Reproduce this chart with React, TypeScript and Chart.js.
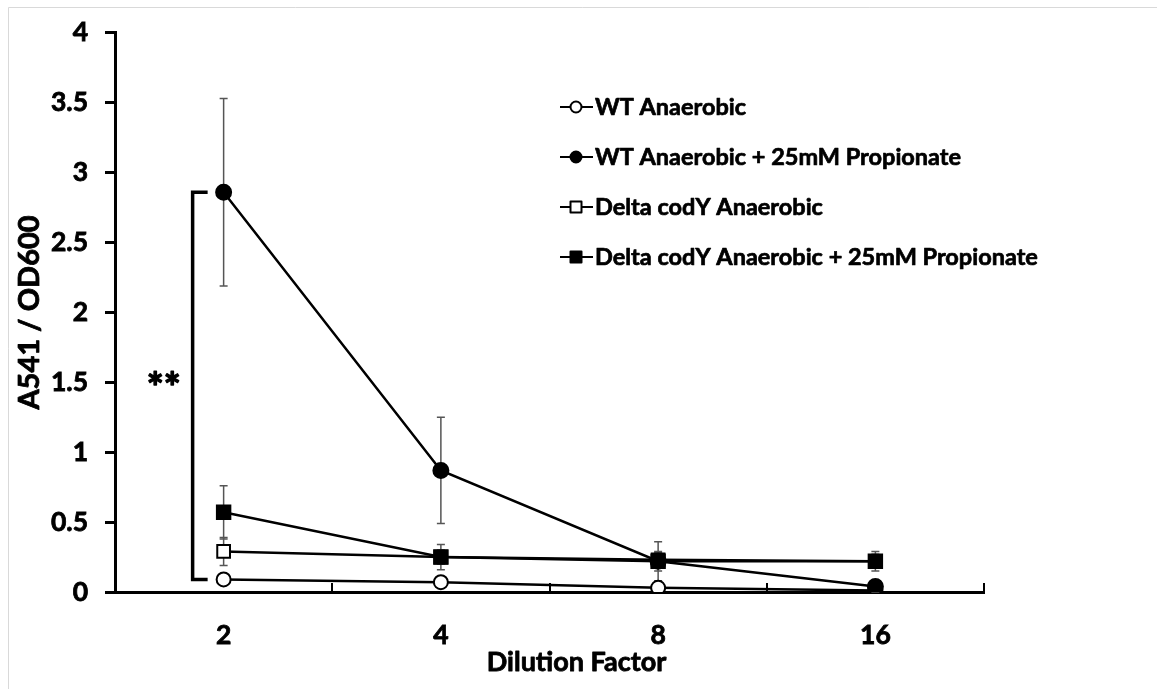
import React, { useEffect, useRef } from 'react';
import { Chart, registerables } from 'chart.js';

Chart.register(...registerables);

// ---- data ----
const dilutionLabels = ['2', '4', '8', '16'];
const seriesNames = [
  'WT Anaerobic',
  'WT Anaerobic + 25mM Propionate',
  'Delta codY Anaerobic',
  'Delta codY Anaerobic + 25mM Propionate',
];
const wtAnaerobic = [0.09, 0.07, 0.03, 0.01];
const wtPropionate = [2.86, 0.87, 0.22, 0.04];
const codYAnaerobic = [0.29, 0.25, 0.23, 0.22];
const codYPropionate = [0.57, 0.25, 0.22, 0.22];
const wtAnaerobicErr = [0.01, 0.01, 0.01, 0.01];
const wtPropionateErr = [0.67, 0.38, 0.14, 0.02];
const codYAnaerobicErr = [0.1, 0.05, 0.05, 0.05];
const codYPropionateErr = [0.19, 0.09, 0.07, 0.07];
const yMin = 0;
const yMax = 4;
const yStep = 0.5;
const xTitle = 'Dilution Factor';
const yTitle = 'A541 / OD600';
const significance = '**';

const FONT = 'Lato, "Open Sans", sans-serif';

function boldText(ctx: any, text: string, x: number, y: number, stroke: number) {
  ctx.fillText(text, x, y);
  if (stroke > 0) {
    ctx.lineWidth = stroke;
    ctx.strokeStyle = '#000';
    ctx.lineJoin = 'round';
    ctx.strokeText(text, x, y);
  }
}

const errorBarsPlugin = {
  id: 'errorBars',
  beforeDatasetsDraw(chart: any) {
    const ctx = chart.ctx;
    const yScale = chart.scales.y;
    ctx.save();
    ctx.strokeStyle = '#555';
    ctx.lineWidth = 1.5;
    chart.data.datasets.forEach((ds: any, di: number) => {
      const meta = chart.getDatasetMeta(di);
      ds.data.forEach((v: number, i: number) => {
        const e = ds.errors[i];
        const pt = meta.data[i];
        if (!pt) return;
        const x = pt.x;
        const yt = yScale.getPixelForValue(v + e);
        const yb = yScale.getPixelForValue(v - e);
        ctx.beginPath();
        ctx.moveTo(x, yt);
        ctx.lineTo(x, yb);
        ctx.moveTo(x - 4, yt);
        ctx.lineTo(x + 4, yt);
        ctx.moveTo(x - 4, yb);
        ctx.lineTo(x + 4, yb);
        ctx.stroke();
      });
    });
    ctx.restore();
  },
};

const decorPlugin = {
  id: 'decor',
  beforeDraw(chart: any) {
    const ctx = chart.ctx;
    ctx.save();
    ctx.fillStyle = '#fff';
    ctx.fillRect(0, 0, chart.width, chart.height);
    ctx.strokeStyle = '#d9d9d9';
    ctx.lineWidth = 1;
    ctx.beginPath();
    ctx.moveTo(8.5, chart.height);
    ctx.lineTo(8.5, 7.5);
    ctx.lineTo(chart.width, 7.5);
    ctx.stroke();
    ctx.restore();
  },
  afterDraw(chart: any) {
    const ctx = chart.ctx;
    const xScale = chart.scales.x;
    const yScale = chart.scales.y;
    const area = chart.chartArea;
    ctx.save();
    // bracket
    const x0 = xScale.getPixelForValue(0);
    const yTop = yScale.getPixelForValue(wtPropionate[0]);
    const yBot = yScale.getPixelForValue(wtAnaerobic[0]);
    ctx.strokeStyle = '#000';
    ctx.lineWidth = 3.5;
    ctx.lineJoin = 'miter';
    ctx.beginPath();
    ctx.moveTo(x0 - 16, yTop);
    ctx.lineTo(x0 - 31, yTop);
    ctx.lineTo(x0 - 31, yBot);
    ctx.lineTo(x0 - 16, yBot);
    ctx.stroke();
    // significance
    ctx.fillStyle = '#000';
    ctx.font = `bold 40px ${FONT}`;
    ctx.textAlign = 'center';
    ctx.textBaseline = 'middle';
    boldText(ctx, significance, x0 - 60, (yTop + yBot) / 2 + 3, 1.4);
    // x title
    ctx.font = `bold 27px ${FONT}`;
    ctx.textBaseline = 'alphabetic';
    boldText(ctx, xTitle, (area.left + area.right) / 2 + 27, 671, 0.8);
    // y title
    ctx.save();
    ctx.translate(30, (area.top + area.bottom) / 2);
    ctx.rotate(-Math.PI / 2);
    ctx.font = `bold 29px ${FONT}`;
    ctx.textAlign = 'center';
    ctx.textBaseline = 'middle';
    boldText(ctx, yTitle, 0, 0, 0.8);
    ctx.restore();
    // legend
    const lx = 560;
    chart.data.datasets.forEach((ds: any, i: number) => {
      const cy = 107 + i * 50;
      ctx.strokeStyle = '#000';
      ctx.lineWidth = 2;
      ctx.beginPath();
      ctx.moveTo(lx, cy);
      ctx.lineTo(lx + 33, cy);
      ctx.stroke();
      ctx.fillStyle = ds.pointBackgroundColor;
      ctx.lineWidth = 2;
      ctx.beginPath();
      if (ds.pointStyle === 'circle') {
        ctx.arc(lx + 16, cy, 5.5, 0, Math.PI * 2);
      } else {
        ctx.rect(lx + 10.5, cy - 5.5, 11, 11);
      }
      ctx.fill();
      ctx.stroke();
      ctx.fillStyle = '#000';
      ctx.font = `bold 23.5px ${FONT}`;
      ctx.textAlign = 'left';
      ctx.textBaseline = 'middle';
      boldText(ctx, ds.label, lx + 35, cy, 0.7);
    });
    ctx.restore();
  },
};

export default function App() {
  const ref = useRef<HTMLCanvasElement | null>(null);
  useEffect(() => {
    if (!ref.current) return;
    const base = {
      borderColor: '#000',
      borderWidth: 2.5,
      pointBorderColor: '#000',
      pointBorderWidth: 2,
      fill: false,
      tension: 0,
    };
    const chart = new Chart(ref.current, {
      type: 'line',
      data: {
        labels: dilutionLabels,
        datasets: [
          { ...base, label: seriesNames[0], data: wtAnaerobic, errors: wtAnaerobicErr, pointStyle: 'circle', pointRadius: 7, pointBackgroundColor: '#fff', order: 3 },
          { ...base, label: seriesNames[1], data: wtPropionate, errors: wtPropionateErr, pointStyle: 'circle', pointRadius: 7.5, pointBackgroundColor: '#000', order: 1 },
          { ...base, label: seriesNames[2], data: codYAnaerobic, errors: codYAnaerobicErr, pointStyle: 'rect', pointRadius: 9, pointBackgroundColor: '#fff', order: 2 },
          { ...base, label: seriesNames[3], data: codYPropionate, errors: codYPropionateErr, pointStyle: 'rect', pointRadius: 9.5, pointBackgroundColor: '#000', order: 0 },
        ] as any,
      },
      options: {
        responsive: false,
        animation: false,
        devicePixelRatio: 1,
        layout: { padding: { top: 32, right: 173, bottom: 0, left: 0 } },
        plugins: { legend: { display: false }, tooltip: { enabled: false } },
        scales: {
          x: {
            type: 'category',
            offset: true,
            grid: { offset: true, drawOnChartArea: false, drawTicks: true, tickLength: -9, color: '#000', lineWidth: 2 },
            border: { display: true, color: '#000', width: 3 },
            ticks: { color: '#000', textStrokeColor: '#000', textStrokeWidth: 0.8, font: { family: FONT, weight: 'bold', size: 26.5 }, padding: 37, autoSkip: false, maxRotation: 0 },
            afterFit: (s: any) => { s.height = 97; },
          },
          y: {
            min: yMin,
            max: yMax,
            grid: { drawOnChartArea: false, drawTicks: true, tickLength: 10, color: '#000', lineWidth: 3 },
            border: { display: true, color: '#000', width: 3 },
            ticks: {
              stepSize: yStep,
              color: '#000',
              textStrokeColor: '#000',
              textStrokeWidth: 0.8,
              font: { family: FONT, weight: 'bold', size: 26.5 },
              padding: 17,
              callback: (v: any) => String(Number(v)),
            },
            afterFit: (s: any) => { s.width = 115; },
          },
        },
      } as any,
      plugins: [errorBarsPlugin, decorPlugin],
    });
    return () => chart.destroy();
  }, []);
  return (
    <div style={{ position: 'absolute', left: 0, top: 0, width: 1157, height: 689, background: '#fff' }}>
      <canvas ref={ref} width={1157} height={689} style={{ display: 'block' }} />
    </div>
  );
}
